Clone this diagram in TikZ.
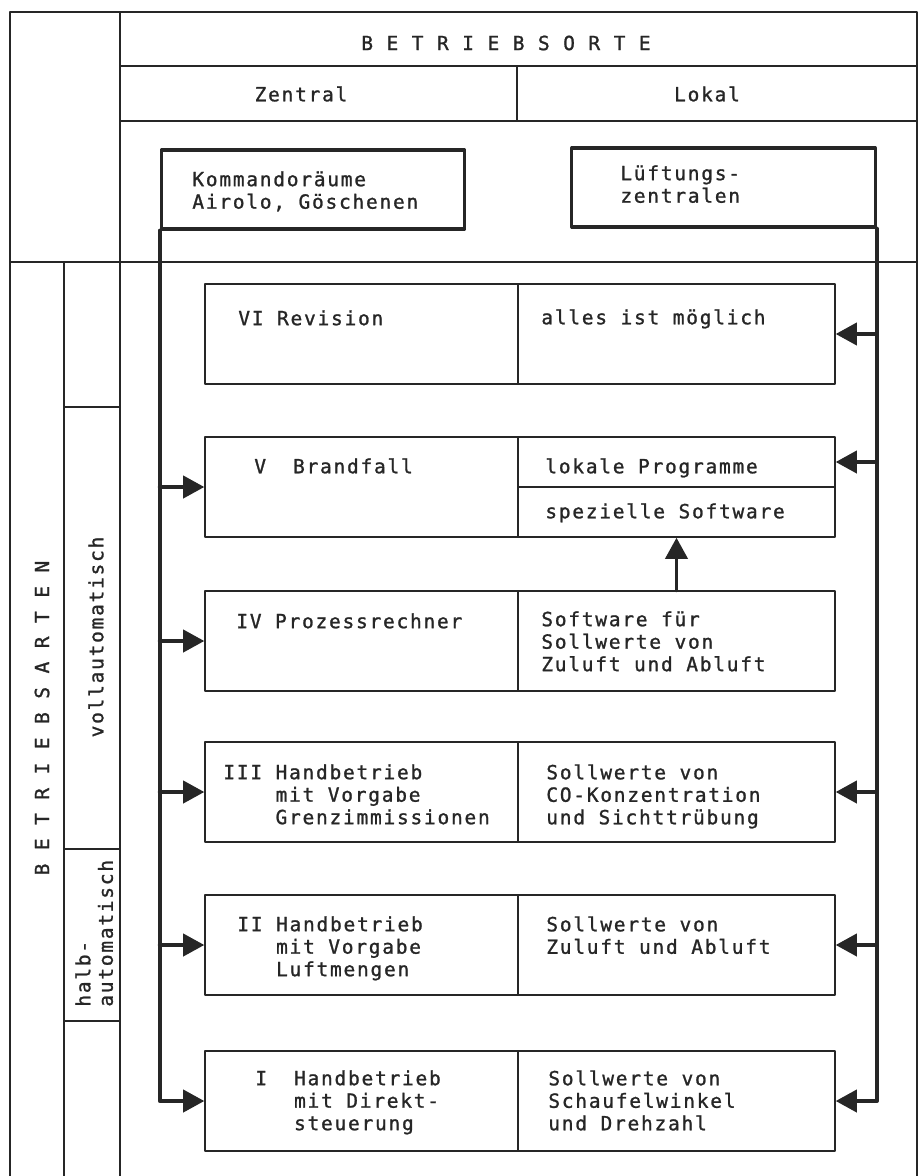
\documentclass[tikz,border=0pt]{standalone}
\usepackage{fontspec}
\usetikzlibrary{arrows.meta}
\newfontfamily\tw[LetterSpace=9,FakeBold=1.2]{DejaVu Sans Mono}
\begin{document}
\begin{tikzpicture}[line join=round,line cap=round,>={Triangle[length=12pt,width=12.5pt]},x=0.02cm,y=-0.02cm]
	\tikzset{every node/.style={font=\tw\fontsize{11.1pt}{12.8pt}\selectfont,inner sep=0pt,text=black!85},
		grid/.style={line width=0.7pt,black!85},
		cell/.style={draw=black!85,line width=0.8pt,minimum height=2cm},
		cellL/.style={cell,minimum width=6.26cm},
		cellR/.style={cell,minimum width=6.34cm},
		half/.style={cell,minimum width=6.34cm,minimum height=1cm},
		post/.style={draw=black!85,line width=1.8pt,minimum width=6.07cm,minimum height=1.58cm},
		txt/.style={anchor=north west,align=left},
		conn/.style={->,line width=2.2pt,black!85}}
	\useasboundingbox (0,0) rectangle (918,1176);
	% Tabelle
	\draw[grid] (10,1176)--(10,12)--(917,12)--(917,1176);
	\draw[grid] (120,12)--(120,1176) (64,262)--(64,1176);
	\draw[grid] (120,66)--(917,66) (120,121)--(917,121) (10,262)--(917,262) (517,66)--(517,121);
	\foreach \y in {407,849,1021}
	\draw[grid] (64,\y)--(120,\y);
	\node (sorte) at (506,43) {B E T R I E B S O R T E};
	\node (zentral) at (301,94) {Zentral};
	\node (lokal) at (707,94) {Lokal};
	\node[rotate=90] (arten) at (42,718) {B E T R I E B S A R T E N};
	\node[rotate=90] (voll) at (96,637) {vollautomatisch};
	\node[txt,rotate=90] (halb) at (75,1007) {halb-\\automatisch};
	% Betriebsorte
	\node[post] (kom) at (313,189.5) {};
	\node[post] (luft) at (723.5,187.5) {};
	\node[txt] (tkom) at (192,171) {Kommandoräume\\Airolo, Göschenen};
	\node[txt] (tluft) at (620,165) {Lüftungs-\\zentralen};
	% Betriebsarten
	\foreach \i/\y in {6/334,4/641,3/792,2/945,1/1101}{
		\node[cellL] (m\i L) at (361.5,\y) {};
		\node[cellR] (m\i R) at (676.5,\y) {};
	}
	\node[cellL] (m5L) at (361.5,487) {};
	\node[half] (m5R1) at (676.5,462) {};
	\node[half] (m5R2) at (676.5,512) {};
	\node[txt] (t6L) at (238,310) {VI Revision};
	\node[txt] (t6R) at (541,309) {alles ist möglich};
	\node[txt] (t5L) at (254,458) {V~~Brandfall};
	\node[txt] (t5R1) at (545,458) {lokale Programme};
	\node[txt] (t5R2) at (545,503) {spezielle Software};
	\node[txt] (t4L) at (236,613) {IV Prozessrechner};
	\node[txt] (t4R) at (541,611) {Software für\\Sollwerte von\\Zuluft und Abluft};
	\node[txt] (t3L) at (223,764) {III Handbetrieb\\\hphantom{III~}mit Vorgabe\\\hphantom{III~}Grenzimmissionen};
	\node[txt] (t3R) at (546,764) {Sollwerte von\\CO-Konzentration\\und Sichttrübung};
	\node[txt] (t2L) at (237,916) {II Handbetrieb\\\hphantom{II~}mit Vorgabe\\\hphantom{II~}Luftmengen};
	\node[txt] (t2R) at (546,916) {Sollwerte von\\Zuluft und Abluft};
	\node[txt] (t1L) at (255,1070) {I~~Handbetrieb\\\hphantom{I~~}mit Direkt-\\\hphantom{I~~}steuerung};
	\node[txt] (t1R) at (548,1070) {Sollwerte von\\Schaufelwinkel\\und Drehzahl};
	% Verbindungen
	\draw[conn] (kom.south west) |- (m1L.west);
	\foreach \i in {5,4,3,2}
	\draw[conn] (kom.south west |- m\i L.west)--(m\i L.west);
	\draw[conn] (luft.south east) |- (m1R.east);
	\foreach \t in {m6R,m5R1,m3R,m2R}
	\draw[conn] (luft.south east |- \t.east)--(\t.east);
	\draw[conn] (m4R.north)--(m5R2.south);
\end{tikzpicture}
\end{document}
